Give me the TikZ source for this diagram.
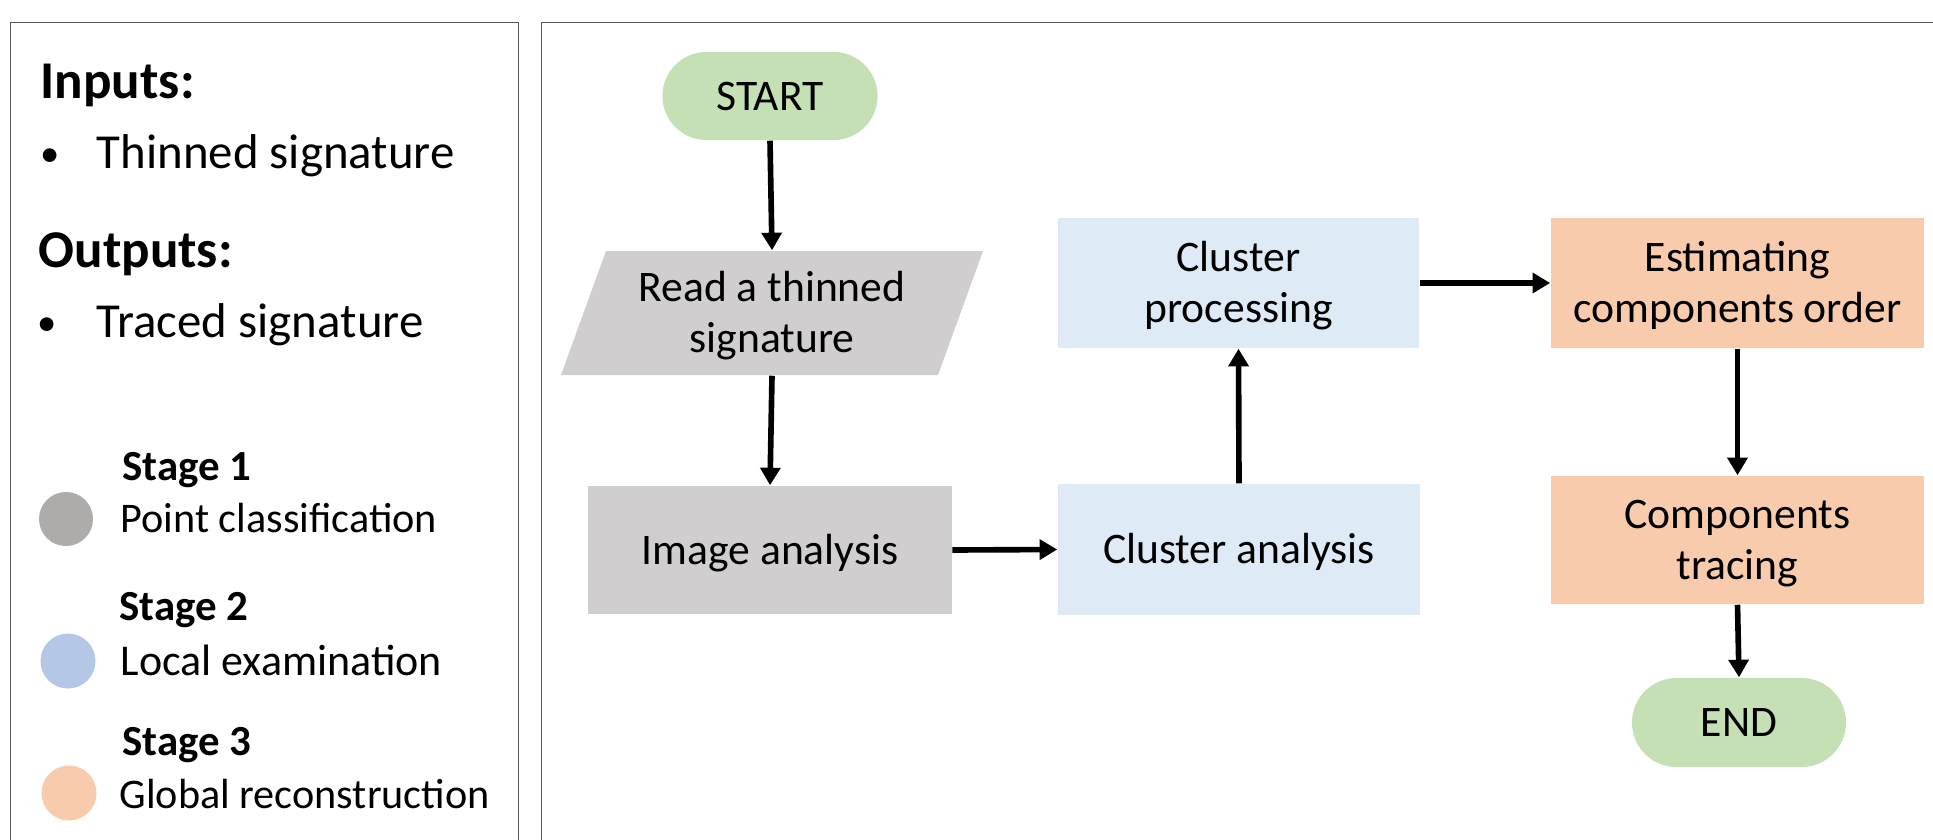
\documentclass[tikz,border=0pt]{standalone}
\usepackage{fontspec}
\setmainfont{Carlito}
\usetikzlibrary{arrows.meta}
\definecolor{frameline}{HTML}{595959}
\definecolor{termfill}{HTML}{C5E0B4}
\definecolor{grayfill}{HTML}{D0CECE}
\definecolor{bluefill}{HTML}{DEEBF7}
\definecolor{orangefill}{HTML}{F8CBAD}
\definecolor{graydot}{HTML}{AEABAB}
\definecolor{bluedot}{HTML}{B4C7E7}
\definecolor{orangedot}{HTML}{F8CBAD}
% fixed line height and depth, so every box label sits at the same level
\newcommand\boxstrut{\rule[-3pt]{0pt}{14pt}}
\tikzset{
  panel/.style={draw=frameline, line width=0.45pt},
  heading/.style={anchor=base west, inner sep=0pt, font=\fontsize{15.1pt}{17pt}\selectfont\bfseries},
  item/.style={anchor=base west, inner sep=0pt, font=\fontsize{13.9pt}{16pt}\selectfont},
  bulletmark/.style={anchor=base, inner sep=0pt, font=\fontsize{11pt}{13pt}\selectfont},
  stagehead/.style={anchor=base west, inner sep=0pt, font=\fontsize{12.2pt}{14pt}\selectfont\bfseries},
  stagetext/.style={anchor=base west, inner sep=0pt, font=\fontsize{12pt}{14pt}\selectfont},
  dot/.style={circle, inner sep=0pt},
  flowtext/.style={font=\fontsize{12.4pt}{14.5pt}\selectfont, align=center, inner sep=0pt, text=black},
  procbox/.style={flowtext, rectangle},
  terminal/.style={flowtext, rectangle, fill=termfill, minimum width=2.15cm, minimum height=0.88cm, rounded corners=0.44cm},
  flow/.style={line width=1.6pt, -{Triangle[width=5.6pt,length=5pt]}}
}
\begin{document}
\begin{tikzpicture}[x=0.01cm, y=-0.01cm]
\useasboundingbox (0,0) rectangle (1933,839);

% frames of the two panels
\draw[panel] (10.5,845) -- (10.5,22.5) -- (518.5,22.5) -- (518.5,845);
\draw[panel] (541.5,845) -- (541.5,22.5) -- (1945,22.5);

% inputs / outputs
\node[heading] (inh) at (40,98) {Inputs:};
\node[bulletmark] (inb) at (50,166) {•};
\node[item] (init) at (96,168) {Thinned signature};
\node[heading] (outh) at (38,267) {Outputs:};
\node[bulletmark] (outb) at (47,335) {•};
\node[item] (outit) at (96,337) {Traced signature};

% stage legend
\node[stagehead] (s1) at (122,480) {Stage 1};
\node[dot, fill=graydot, minimum size=0.54cm] (d1) at (66,519) {};
\node[stagetext] (t1) at (120,532) {Point classification};
\node[stagehead] (s2) at (119,620) {Stage 2};
\node[dot, fill=bluedot, minimum size=0.55cm] (d2) at (68,661) {};
\node[stagetext, font=\fontsize{12.5pt}{14pt}\selectfont] (t2) at (120,675) {Local examination};
\node[stagehead] (s3) at (122,755) {Stage 3};
\node[dot, fill=orangedot, minimum size=0.55cm] (d3) at (69,793) {};
\node[stagetext] (t3) at (119,808) {Global reconstruction};

% flowchart
\node[terminal] (start) at (770,96) {\boxstrut START};

\fill[grayfill] (606,251) -- (983,251) -- (938,375) -- (561,375) -- cycle;
\node[procbox, minimum width=3.3cm, minimum height=1.24cm] (read) at (772,313) {\boxstrut Read a thinned\\\boxstrut signature};

\node[procbox, fill=grayfill, minimum width=3.63cm, minimum height=1.28cm] (image) at (770,550) {\boxstrut Image analysis};
\node[procbox, fill=bluefill, minimum width=3.62cm, minimum height=1.31cm] (cana) at (1239,549.5) {\boxstrut Cluster analysis};
\node[procbox, fill=bluefill, minimum width=3.61cm, minimum height=1.30cm] (cproc) at (1238.5,283) {\boxstrut Cluster\\\boxstrut processing};
\node[procbox, fill=orangefill, minimum width=3.73cm, minimum height=1.30cm] (est) at (1737.5,283) {\boxstrut Estimating\\\boxstrut components order};
\node[procbox, fill=orangefill, minimum width=3.73cm, minimum height=1.28cm] (comp) at (1737.5,540) {\boxstrut Components\\\boxstrut tracing};
\node[terminal, minimum width=2.14cm, minimum height=0.89cm, rounded corners=0.445cm] (end) at (1739,722.5) {\boxstrut END};

\draw[flow] (start.south) -- (read.north);
\draw[flow] (read.south) -- (image.north);
\draw[flow] (image.east) -- (cana.west);
\draw[flow] (cana.north) -- (cproc.south);
\draw[flow] (cproc.east) -- (est.west);
\draw[flow] (est.south) -- (comp.north);
\draw[flow] (comp.south) -- (end.north);
\end{tikzpicture}
\end{document}
